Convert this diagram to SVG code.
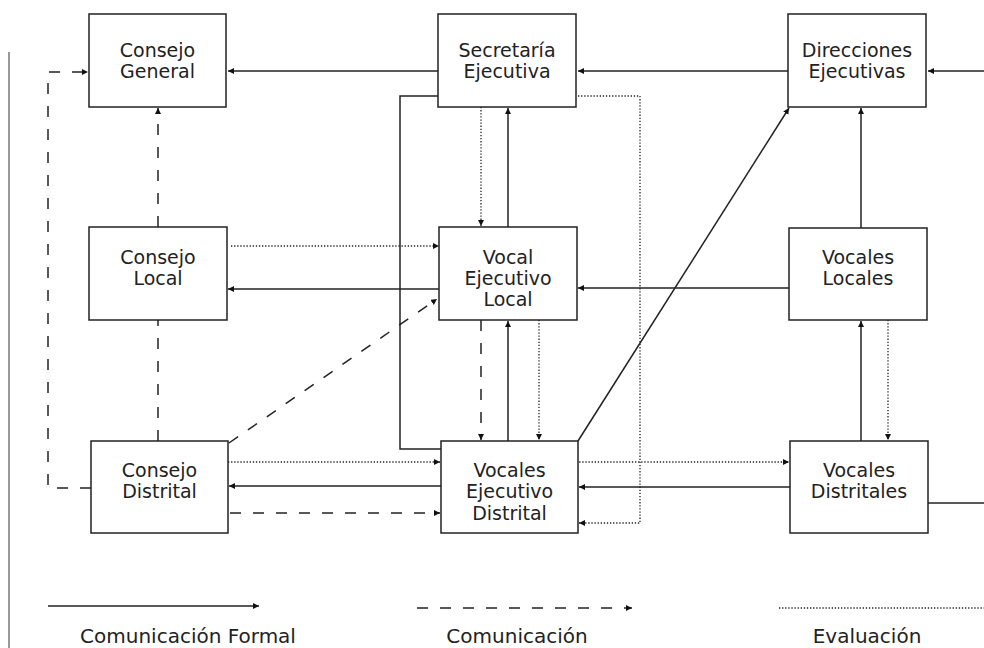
<svg xmlns="http://www.w3.org/2000/svg" width="984" height="648" viewBox="0 0 984 648">
<style>
.box{fill:#fff;stroke:#222;stroke-width:1.5}
.t{font-family:"DejaVu Sans","Liberation Sans",sans-serif;font-size:19px;fill:#222;text-anchor:middle}
.l{font-family:"DejaVu Sans","Liberation Sans",sans-serif;font-size:20px;fill:#222;text-anchor:middle}
.s{fill:none;stroke:#222;stroke-width:1.5}
.d{fill:none;stroke:#222;stroke-width:1.5;stroke-dasharray:11,12}
.o{fill:none;stroke:#222;stroke-width:1.3;stroke-dasharray:1.3,1.8}
</style>
<defs>
<marker id="a" markerUnits="userSpaceOnUse" markerWidth="7" markerHeight="7" refX="6" refY="3" orient="auto">
<path d="M0,0 L6,3 L0,6 z" fill="#111"/>
</marker>
</defs>
<rect width="984" height="648" fill="#fff"/>
<line x1="9" y1="52" x2="9" y2="648" stroke="#777" stroke-width="1.5"/>
<g id="connectors">
<line class="s" x1="438" y1="71" x2="228" y2="71" marker-end="url(#a)"/>
<line class="s" x1="788" y1="71" x2="578" y2="71" marker-end="url(#a)"/>
<line class="s" x1="984" y1="71" x2="928" y2="71" marker-end="url(#a)"/>
<line class="s" x1="928" y1="503" x2="984" y2="503"/>
<line class="s" x1="439" y1="289" x2="228" y2="289" marker-end="url(#a)"/>
<line class="s" x1="789" y1="288" x2="578" y2="288" marker-end="url(#a)"/>
<line class="s" x1="441" y1="486" x2="229" y2="486" marker-end="url(#a)"/>
<line class="s" x1="790" y1="487" x2="579" y2="487" marker-end="url(#a)"/>
<polyline class="s" points="438,96 400,96 400,449 441,449"/>
<line class="s" x1="508" y1="227" x2="508" y2="108" marker-end="url(#a)"/>
<line class="s" x1="508" y1="441" x2="508" y2="321" marker-end="url(#a)"/>
<line class="s" x1="861" y1="228" x2="861" y2="108" marker-end="url(#a)"/>
<line class="s" x1="861" y1="441" x2="861" y2="321" marker-end="url(#a)"/>
<line class="s" x1="578" y1="441" x2="789" y2="108" marker-end="url(#a)"/>
<polyline class="d" points="91,488 48,488 48,72 88,72" marker-end="url(#a)"/>
<line class="d" x1="158" y1="227" x2="158" y2="108" marker-end="url(#a)"/>
<line class="d" x1="158" y1="441" x2="158" y2="320"/>
<line class="d" x1="229" y1="443" x2="437" y2="299" marker-end="url(#a)"/>
<line class="d" x1="481" y1="320" x2="481" y2="440" marker-end="url(#a)"/>
<line class="d" x1="230" y1="513" x2="440" y2="513" marker-end="url(#a)"/>
<line class="o" x1="231" y1="246" x2="439" y2="246" marker-end="url(#a)"/>
<line class="o" x1="481" y1="107" x2="481" y2="226" marker-end="url(#a)"/>
<line class="o" x1="539" y1="320" x2="539" y2="440" marker-end="url(#a)"/>
<line class="o" x1="888" y1="320" x2="888" y2="440" marker-end="url(#a)"/>
<line class="o" x1="228" y1="462" x2="440" y2="462" marker-end="url(#a)"/>
<line class="o" x1="573" y1="462" x2="789" y2="462" marker-end="url(#a)"/>
<polyline class="o" points="578,96 640,96 640,523 579,523" marker-end="url(#a)"/>
<line class="s" x1="48" y1="606" x2="259" y2="606" marker-end="url(#a)"/>
<line class="d" x1="417" y1="608" x2="632" y2="608" marker-end="url(#a)"/>
<line class="o" x1="779" y1="608" x2="984" y2="608"/>
</g>
<g id="consejo-general"><rect class="box" x="89" y="14" width="137" height="93"/><text class="t" x="157.5" y="57">Consejo</text><text class="t" x="157.5" y="78">General</text></g>
<g id="secretaria-ejecutiva"><rect class="box" x="438" y="14" width="138" height="93"/><text class="t" x="507" y="57">Secretaría</text><text class="t" x="507" y="78">Ejecutiva</text></g>
<g id="direcciones-ejecutivas"><rect class="box" x="788" y="14" width="138" height="93"/><text class="t" x="857" y="57">Direcciones</text><text class="t" x="857" y="78">Ejecutivas</text></g>
<g id="consejo-local"><rect class="box" x="89" y="227" width="138" height="93"/><text class="t" x="158" y="264">Consejo</text><text class="t" x="158" y="285">Local</text></g>
<g id="vocal-ejecutivo-local"><rect class="box" x="439" y="227" width="138" height="93"/><text class="t" x="508" y="264">Vocal</text><text class="t" x="508" y="285">Ejecutivo</text><text class="t" x="508" y="306">Local</text></g>
<g id="vocales-locales"><rect class="box" x="789" y="228" width="138" height="92"/><text class="t" x="858" y="264">Vocales</text><text class="t" x="858" y="285">Locales</text></g>
<g id="consejo-distrital"><rect class="box" x="91" y="441" width="137" height="92"/><text class="t" x="159.5" y="477">Consejo</text><text class="t" x="159.5" y="498">Distrital</text></g>
<g id="vocales-ejecutivo-distrital"><rect class="box" x="441" y="441" width="137" height="92"/><text class="t" x="509.5" y="477">Vocales</text><text class="t" x="509.5" y="498">Ejecutivo</text><text class="t" x="509.5" y="520">Distrital</text></g>
<g id="vocales-distritales"><rect class="box" x="790" y="441" width="138" height="92"/><text class="t" x="859" y="477">Vocales</text><text class="t" x="859" y="498">Distritales</text></g>
<g id="legend">
<text class="l" x="188" y="643">Comunicación Formal</text>
<text class="l" x="517" y="643">Comunicación</text>
<text class="l" x="867" y="643">Evaluación</text>
</g>
</svg>
